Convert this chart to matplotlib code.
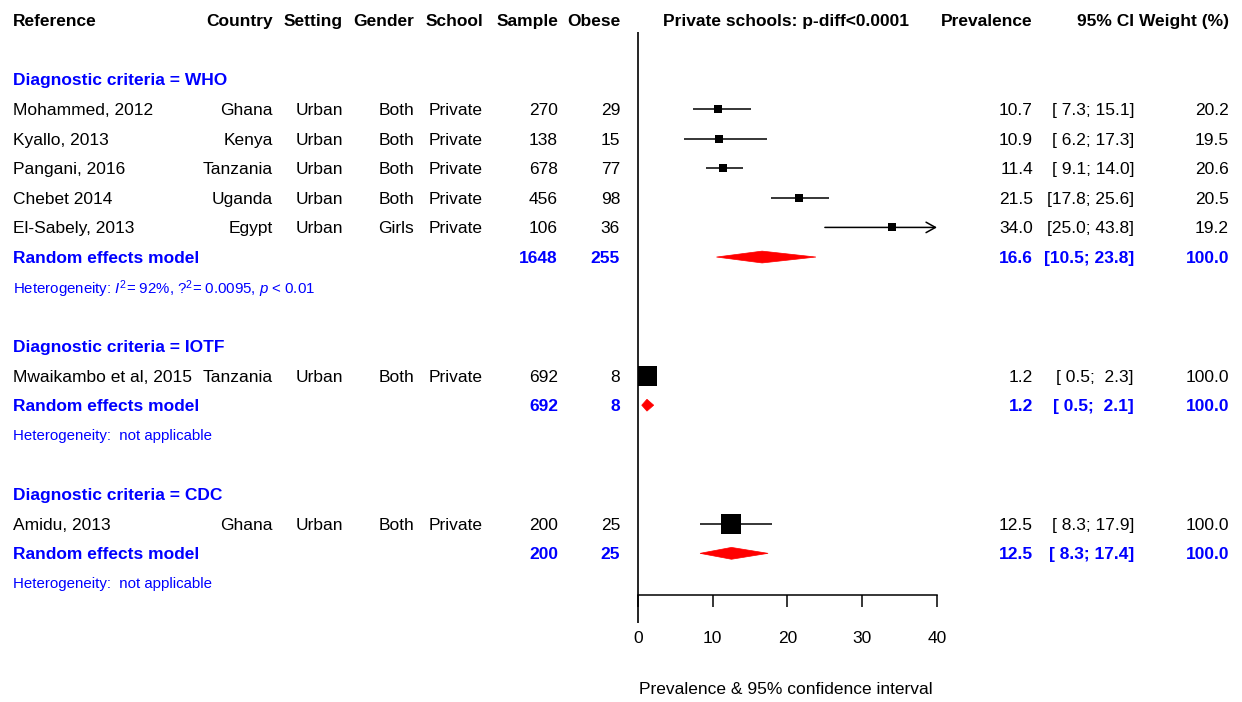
import matplotlib
matplotlib.use("Agg")
import numpy as np
import matplotlib.pyplot as plt
from matplotlib import transforms
from matplotlib.patches import Polygon

plt.rcParams['font.family'] = ['Liberation Sans', 'DejaVu Sans']
plt.rcParams['mathtext.fontset'] = 'custom'
plt.rcParams['mathtext.rm'] = 'Liberation Sans'
plt.rcParams['mathtext.it'] = 'Liberation Sans:italic'
plt.rcParams['mathtext.bf'] = 'Liberation Sans:bold'

# ---------------- data ----------------
headers = ["Reference", "Country", "Setting", "Gender", "School", "Sample", "Obese",
           "Private schools: p-diff<0.0001", "Prevalence", "95% CI", "Weight (%)"]

groups = ["WHO", "IOTF", "CDC"]
study_group = ["WHO", "WHO", "WHO", "WHO", "WHO", "IOTF", "CDC"]
studies = ["Mohammed, 2012", "Kyallo, 2013", "Pangani, 2016", "Chebet 2014",
           "El-Sabely, 2013", "Mwaikambo et al, 2015", "Amidu, 2013"]
country = ["Ghana", "Kenya", "Tanzania", "Uganda", "Egypt", "Tanzania", "Ghana"]
setting = ["Urban", "Urban", "Urban", "Urban", "Urban", "Urban", "Urban"]
gender = ["Both", "Both", "Both", "Both", "Girls", "Both", "Both"]
school = ["Private", "Private", "Private", "Private", "Private", "Private", "Private"]
sample = [270, 138, 678, 456, 106, 692, 200]
obese = [29, 15, 77, 98, 36, 8, 25]
prev = [10.7, 10.9, 11.4, 21.5, 34.0, 1.2, 12.5]
ci_lo = [7.3, 6.2, 9.1, 17.8, 25.0, 0.5, 8.3]
ci_hi = [15.1, 17.3, 14.0, 25.6, 43.8, 2.3, 17.9]
weight = [20.2, 19.5, 20.6, 20.5, 19.2, 100.0, 100.0]

pooled_sample = [1648, 692, 200]
pooled_obese = [255, 8, 25]
pooled_prev = [16.6, 1.2, 12.5]
pooled_lo = [10.5, 0.5, 8.3]
pooled_hi = [23.8, 2.1, 17.4]
pooled_weight = [100.0, 100.0, 100.0]
het_text = [r"Heterogeneity: $I^2$= 92%, $?^2$= 0.0095, $p$ < 0.01",
            "Heterogeneity:  not applicable",
            "Heterogeneity:  not applicable"]

x_ticks = [0, 10, 20, 30, 40]
x_label = "Prevalence & 95% confidence interval"

# ---------------- layout ----------------
W, H = 1242, 702
FS = 12.5
FS_SMALL = 10.8
BLUE = "#0000FF"
RED = "#FF0000"
ROW0, ROWH = 20.0, 29.63

fig = plt.figure(figsize=(W / 100, H / 100), dpi=100)
ax_l, ax_r = 638, 937
ax = fig.add_axes([ax_l / W, 0, (ax_r - ax_l) / W, 1])
ax.set_xlim(0, 40)
ax.set_ylim((H - ROW0) / ROWH, -ROW0 / ROWH)
for s in ["left", "right", "top"]:
    ax.spines[s].set_visible(False)
ax.spines["bottom"].set_position(("data", (595 - ROW0) / ROWH))
ax.spines["bottom"].set_linewidth(1.1)
ax.set_yticks([])
ax.set_xticks(x_ticks)
ax.set_xticklabels([str(t) for t in x_ticks])
ax.tick_params(axis="x", direction="out", length=8.6, width=1.1, pad=17, labelsize=FS)
ax.patch.set_visible(False)

tr = transforms.blended_transform_factory(fig.transFigure, ax.transData)

cols = [(13, "left"), (273, "right"), (343, "right"), (414, "right"), (483, "right"),
        (558, "right"), (620, "right"), (786, "center"), (1033, "right"),
        (1134, "right"), (1229, "right")]


def put(col, r, s, bold=False, color="black", size=FS):
    xp, ha = cols[col]
    ax.text(xp / W, r, s, transform=tr, ha=ha, va="center_baseline", fontsize=size,
            fontweight="bold" if bold else "normal", color=color, clip_on=False)


# header
for i, h in enumerate(headers):
    put(i, 0, h, bold=True)

# reference line at zero
ax.plot([0, 0], [(32 - ROW0) / ROWH, (623 - ROW0) / ROWH], color="black", lw=1.2,
        clip_on=False, solid_capstyle="butt")

r = 2
for g, grp in enumerate(groups):
    put(0, r, "Diagnostic criteria = " + grp, bold=True, color=BLUE)
    r += 1
    for i in range(len(studies)):
        if study_group[i] != grp:
            continue
        put(0, r, studies[i])
        put(1, r, country[i])
        put(2, r, setting[i])
        put(3, r, gender[i])
        put(4, r, school[i])
        put(5, r, str(sample[i]))
        put(6, r, str(obese[i]))
        put(8, r, f"{prev[i]:.1f}")
        put(9, r, f"[{ci_lo[i]:4.1f}; {ci_hi[i]:4.1f}]")
        put(10, r, f"{weight[i]:.1f}")
        # CI line / arrow
        if ci_hi[i] > 40:
            ax.annotate("", xy=(40, r), xytext=(ci_lo[i], r),
                        arrowprops=dict(arrowstyle="->,head_length=0.45,head_width=0.25",
                                        lw=1.1, color="black", shrinkA=0, shrinkB=0,
                                        mutation_scale=15),
                        annotation_clip=False)
        else:
            ax.plot([ci_lo[i], ci_hi[i]], [r, r], color="black", lw=1.1,
                    solid_capstyle="butt")
        size_px = 19.5 * np.sqrt(weight[i] / 100.0)
        ax.plot([prev[i]], [r], marker="s", color="black", markersize=size_px * 0.72,
                markeredgewidth=0, linestyle="none")
        r += 1
    # pooled
    put(0, r, "Random effects model", bold=True, color=BLUE)
    put(5, r, str(pooled_sample[g]), bold=True, color=BLUE)
    put(6, r, str(pooled_obese[g]), bold=True, color=BLUE)
    put(8, r, f"{pooled_prev[g]:.1f}", bold=True, color=BLUE)
    put(9, r, f"[{pooled_lo[g]:4.1f}; {pooled_hi[g]:4.1f}]", bold=True, color=BLUE)
    put(10, r, f"{pooled_weight[g]:.1f}", bold=True, color=BLUE)
    hh = 0.2
    ax.add_patch(Polygon([(pooled_lo[g], r), (pooled_prev[g], r - hh),
                          (pooled_hi[g], r), (pooled_prev[g], r + hh)],
                         closed=True, facecolor=RED, edgecolor=RED, lw=0.5))
    r += 1
    put(0, r, het_text[g], color=BLUE, size=FS_SMALL)
    r += 2

fig.text(786 / W, 1 - 688 / H, x_label, ha="center", va="center_baseline", fontsize=FS)

fig.savefig("out.png", dpi=100, facecolor="white")
